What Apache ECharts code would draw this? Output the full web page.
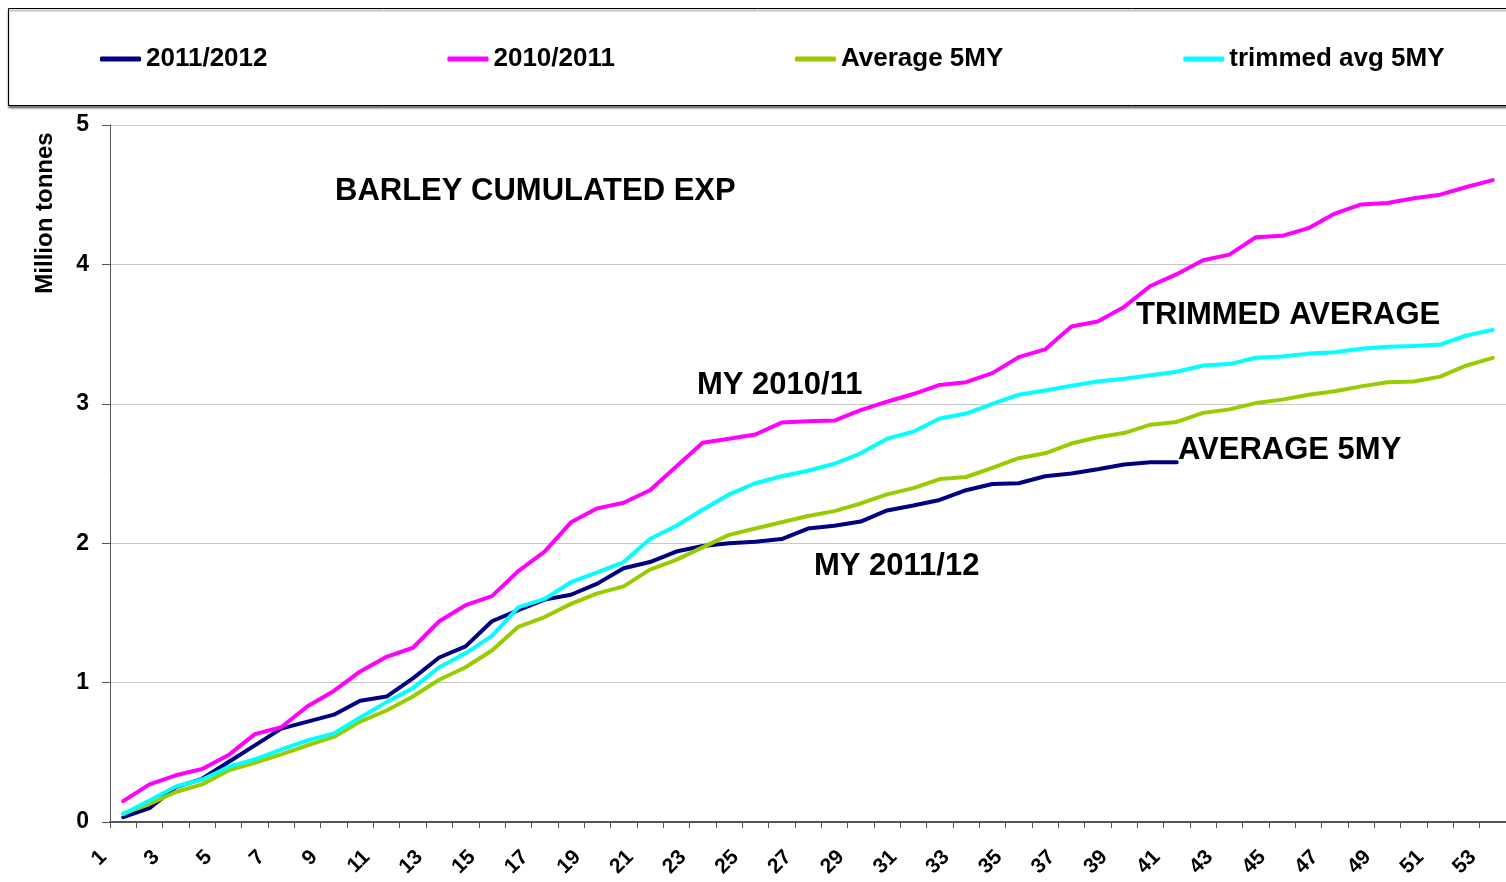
<!DOCTYPE html>
<html>
<head>
    <meta charset="UTF-8">
    <title>Barley cumulated exp</title>
    <style>
        html, body { margin: 0; padding: 0; background: #fff; }
    </style>
</head>
<body>
<div id="main" style="width: 1506px;height:882px;"></div>
<script src="https://cdn.jsdelivr.net/npm/echarts@6/dist/echarts.min.js"></script>
<script>
    // weeks 1..53
    var weeks = [];
    for (var w = 1; w <= 53; w++) weeks.push(String(w));

    var names = ['2011/2012', '2010/2011', 'Average 5MY', 'trimmed avg 5MY'];
    var colors = ['#000080', '#ff00ff', '#99cc00', '#00ffff'];

    var my1112 = [0.035, 0.10, 0.25, 0.31, 0.43, 0.55, 0.67, 0.72, 0.77, 0.87,
        0.90, 1.03, 1.18, 1.26, 1.44, 1.52, 1.595, 1.63, 1.71, 1.82,
        1.865, 1.94, 1.98, 2.00, 2.01, 2.03, 2.105, 2.125, 2.155, 2.235,
        2.27, 2.31, 2.38, 2.425, 2.43, 2.48, 2.50, 2.53, 2.565, 2.58,
        2.58];
    var my1011 = [0.15, 0.27, 0.335, 0.38, 0.48, 0.63, 0.68, 0.83, 0.94, 1.08,
        1.185, 1.25, 1.44, 1.555, 1.62, 1.80, 1.94, 2.15, 2.25, 2.29,
        2.38, 2.55, 2.72, 2.75, 2.78, 2.865, 2.875, 2.88, 2.955, 3.015,
        3.07, 3.135, 3.155, 3.22, 3.335, 3.39, 3.555, 3.59, 3.695, 3.845,
        3.93, 4.03, 4.07, 4.195, 4.205, 4.26, 4.365, 4.43, 4.44, 4.475,
        4.50, 4.555, 4.605];
    var avg5 = [0.06, 0.13, 0.215, 0.27, 0.37, 0.425, 0.485, 0.55, 0.61, 0.72,
        0.80, 0.90, 1.02, 1.11, 1.23, 1.40, 1.47, 1.565, 1.64, 1.69,
        1.81, 1.88, 1.97, 2.06, 2.105, 2.15, 2.195, 2.23, 2.285, 2.35,
        2.395, 2.46, 2.475, 2.54, 2.61, 2.645, 2.715, 2.76, 2.79, 2.85,
        2.87, 2.935, 2.96, 3.005, 3.03, 3.065, 3.09, 3.125, 3.155, 3.16,
        3.195, 3.275, 3.33];
    var trimmed5 = [0.055, 0.155, 0.255, 0.305, 0.395, 0.45, 0.52, 0.585, 0.635, 0.75,
        0.86, 0.96, 1.11, 1.21, 1.335, 1.54, 1.60, 1.72, 1.79, 1.865,
        2.03, 2.125, 2.24, 2.35, 2.43, 2.48, 2.52, 2.57, 2.645, 2.75,
        2.80, 2.895, 2.93, 3.00, 3.065, 3.095, 3.13, 3.16, 3.18, 3.205,
        3.23, 3.275, 3.285, 3.33, 3.34, 3.36, 3.37, 3.395, 3.41, 3.415,
        3.425, 3.49, 3.53];

    var yTicks = [0, 1, 2, 3, 4, 5];

    var font = 'Liberation Sans, Arial, sans-serif';
    var myChart = echarts.init(document.getElementById('main'));

    function mkLine(i, d) {
        return {
            name: names[i],
            type: 'line',
            data: d,
            showSymbol: false,
            symbol: 'none',
            lineStyle: { color: colors[i], width: 4, join: 'round', cap: 'round' },
            itemStyle: { color: colors[i] },
            emphasis: { disabled: true },
            animation: false
        };
    }

    // labels written on the plot
    var notes = [
        ['BARLEY CUMULATED EXP', 335, 191],
        ['MY 2010/11', 697, 385],
        ['TRIMMED AVERAGE', 1136, 315],
        ['AVERAGE 5MY', 1178, 450],
        ['MY 2011/12', 814, 566]
    ];
    var graphics = [{
        type: 'rect',
        shape: { x: 8.5, y: 8.5, width: 1510, height: 97 },
        style: { fill: '#fff', stroke: '#000', lineWidth: 1,
            shadowBlur: 2, shadowOffsetY: 2, shadowColor: 'rgba(0,0,0,0.5)' },
        z: -1
    }, {
        type: 'text',
        x: 45, y: 213,
        rotation: Math.PI / 2,
        style: { text: 'Million tonnes', font: 'bold 24px ' + font, fill: '#000',
            align: 'center', verticalAlign: 'middle' }
    }];
    notes.forEach(function (n) {
        graphics.push({
            type: 'text',
            x: n[1], y: n[2],
            style: { text: n[0], font: 'bold 31px ' + font, fill: '#000',
                align: 'left', verticalAlign: 'middle' },
            z: 100
        });
    });

    var option = {
        animation: false,
        backgroundColor: '#fff',
        legend: {
            data: names,
            left: 100,
            top: 46,
            padding: 0,
            itemGap: 180,
            itemWidth: 41,
            itemHeight: 5,
            icon: 'roundRect',
            textStyle: { fontSize: 26, fontWeight: 'bold', color: '#000', fontFamily: font },
            selectedMode: false
        },
        grid: { left: 110, right: 0, top: 125, bottom: 60 },
        xAxis: {
            type: 'category',
            data: weeks,
            boundaryGap: true,
            axisLine: { lineStyle: { color: '#555', width: 2 } },
            axisTick: { show: true, interval: 0, length: 6, lineStyle: { color: '#555' } },
            axisLabel: {
                interval: 1,
                rotate: 45,
                margin: 12,
                padding: [0, 28, 0, 0],
                color: '#000',
                fontSize: 21,
                fontWeight: 'bold',
                fontFamily: font
            },
            splitLine: { show: false }
        },
        yAxis: {
            type: 'value',
            min: yTicks[0],
            max: yTicks[yTicks.length - 1],
            interval: 1,
            axisLine: { show: true, lineStyle: { color: '#555', width: 1 } },
            axisTick: { show: true, length: 8, lineStyle: { color: '#555' } },
            axisLabel: { color: '#000', fontSize: 23, fontWeight: 'bold', fontFamily: font, margin: 21 },
            splitLine: { show: true, lineStyle: { color: '#c8c8c8', width: 1 } }
        },
        graphic: graphics,
        series: [
            mkLine(0, my1112),
            mkLine(1, my1011),
            mkLine(2, avg5),
            mkLine(3, trimmed5)
        ]
    };
    myChart.setOption(option);
</script>
</body>
</html>
